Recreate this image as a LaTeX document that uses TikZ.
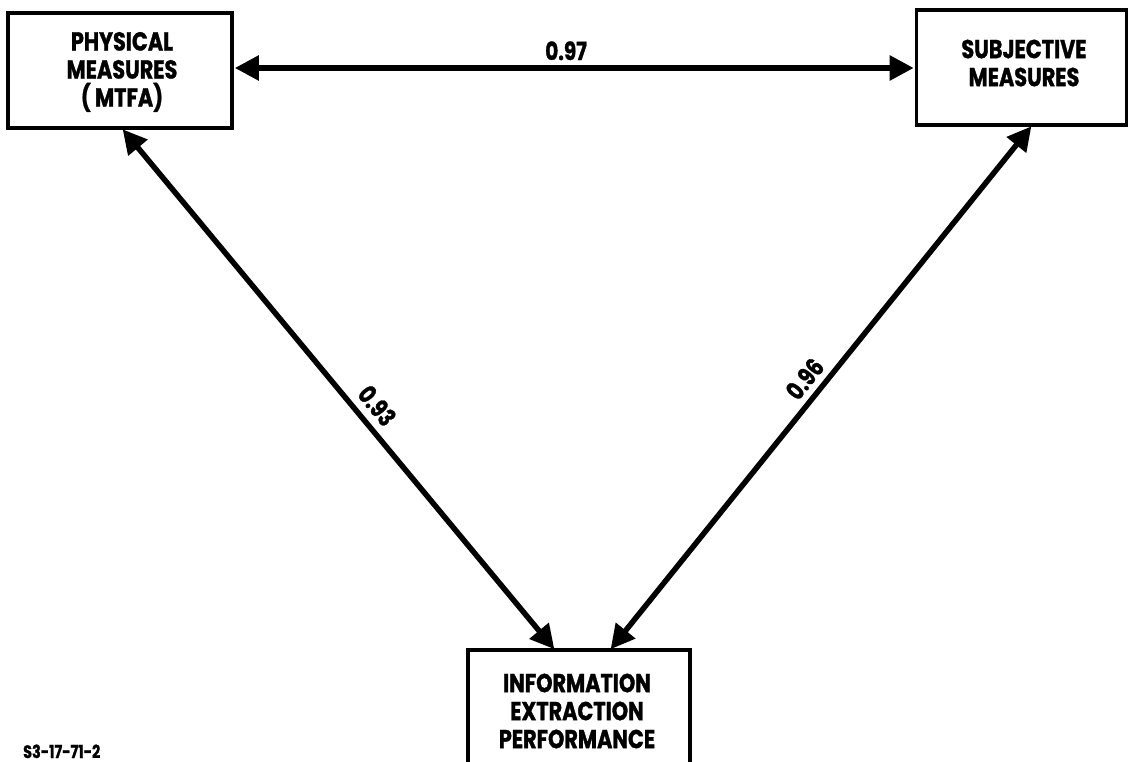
\documentclass[tikz,border=0pt]{standalone}
\usepackage{fontspec}
\setmainfont{Poppins}[BoldFont={* Bold},BoldFeatures={FakeBold=1.2},FakeStretch=0.8]
\usetikzlibrary{arrows.meta}
\tikzset{
  box/.style={draw, line width=3.6pt, fill=white, inner sep=0pt},
  boxtext/.style={align=center, inner sep=0pt, font=\fontsize{26}{28}\selectfont\bfseries},
  link/.style={line width=5.5pt, {Triangle[length=24pt,width=24pt]}-{Triangle[length=24pt,width=24pt]}, shorten <=1pt, shorten >=1pt},
  val/.style={font=\fontsize{25}{27}\selectfont\bfseries, inner sep=2pt}
}
\begin{document}
\begin{tikzpicture}[x=1pt,y=-1pt]
\useasboundingbox (0,0) rectangle (1129,762);
\clip (0,0) rectangle (1129,762);
\fill[white] (0,0) rectangle (1129,762);

% the three measure boxes
\node[box, minimum width=224pt, minimum height=115pt] (phys) at (120,70.5) {};
\node[boxtext] (physt) at (122,72) {PHYSICAL\\MEASURES\\(\,MTFA)};

\node[box, minimum width=210pt, minimum height=115pt] (subj) at (1021.5,67.5) {};
\node[boxtext] (subjt) at (1024,63) {SUBJECTIVE\\MEASURES};

\node[box, minimum width=222pt, minimum height=130pt] (info) at (579,715) {};
\node[boxtext] (infot) at (577,711) {INFORMATION\\EXTRACTION\\PERFORMANCE};

% correlations between the measures
\coordinate (pr) at (phys.east |- 0,68);
\coordinate (sl) at (subj.west |- 0,68);
\draw[link] (pr) -- node[val, above=3pt, pos=0.488] (r1) {0.97} (sl);

\coordinate (pb) at (122,128.5);
\coordinate (ia) at (555,650);
\draw[link] (pb) -- node[val, sloped, above=5pt, pos=0.555] (r2) {0.93} (ia);

\coordinate (sb) at (1032,125.5);
\coordinate (ib) at (610,650);
\draw[link] (sb) -- node[val, sloped, above=4pt, pos=0.505] (r3) {0.96} (ib);

% figure number
\node[anchor=base west, font=\fontsize{18}{20}\selectfont\bfseries, inner sep=0pt] (fig) at (23,758)
  {S3-17-71-2};
\end{tikzpicture}
\end{document}
